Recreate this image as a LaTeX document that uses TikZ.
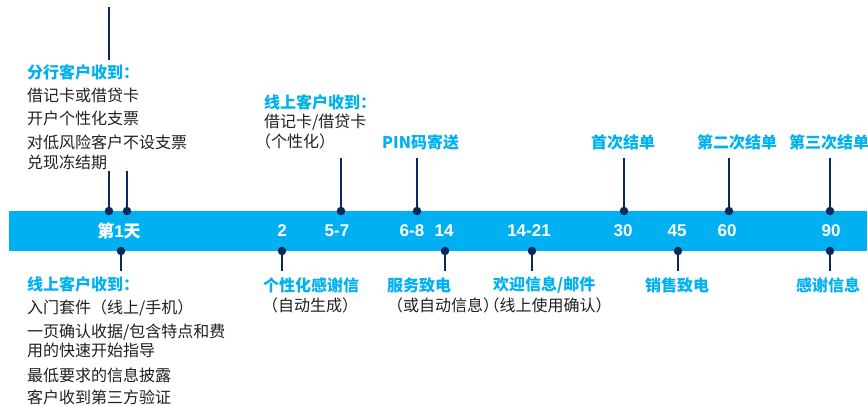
\documentclass[tikz,border=0pt]{standalone}
\usepackage{fontspec}
\setmainfont{Noto Sans CJK SC}
\newfontfamily\numf{Liberation Sans}
\newfontfamily\halfpunct[RawFeature=+halt]{Noto Sans CJK SC}
\definecolor{bandblue}{HTML}{00B0F0}
\definecolor{navy}{HTML}{0B2A5B}
\definecolor{txtgray}{HTML}{1F1F1F}
\begin{document}
\begin{tikzpicture}[x=1pt,y=-1pt,
  lbl/.style={font=\fontsize{16}{18}\selectfont\bfseries, text=bandblue, inner sep=0},
  txt/.style={font=\fontsize{16}{18}\selectfont, text=txtgray, inner sep=0},
  num/.style={font=\numf\fontsize{17}{20}\selectfont\bfseries, text=white, inner sep=0},
  cnum/.style={font=\fontsize{17}{20}\selectfont\bfseries, text=white, inner sep=0},
  stem/.style={draw=navy, line width=2pt},
  dotmark/.style={circle, fill=navy, inner sep=0, minimum size=8.5pt}]
\useasboundingbox (0,0) rectangle (868,405);
% band
\fill[bandblue] (9,211) rectangle (867,251);

% top dots and stems
\node[dotmark] (u1) at (109,211) {};
\node[dotmark] (u2) at (127,211) {};
\node[dotmark] (u3) at (341,211) {};
\node[dotmark] (u4) at (417,211) {};
\node[dotmark] (u5) at (624,211) {};
\node[dotmark] (u6) at (729,211) {};
\node[dotmark] (u7) at (830,211) {};
\coordinate (a1) at (109,7);
\coordinate (b1) at (109,60);
\coordinate (c1) at (109,171);
\coordinate (c2) at (127,171);
\coordinate (c3) at (341,158);
\coordinate (c4) at (417,158);
\coordinate (c5) at (624,158);
\coordinate (c6) at (729,158);
\coordinate (c7) at (830,158);
\draw[stem] (a1) -- (b1);
\draw[stem] (c1) -- (u1);
\draw[stem] (c2) -- (u2);
\draw[stem] (c3) -- (u3);
\draw[stem] (c4) -- (u4);
\draw[stem] (c5) -- (u5);
\draw[stem] (c6) -- (u6);
\draw[stem] (c7) -- (u7);

% bottom dots and stems
\node[dotmark] (d1) at (121,251) {};
\node[dotmark] (d2) at (282,251) {};
\node[dotmark] (d3) at (445,251) {};
\node[dotmark] (d4) at (532,251) {};
\node[dotmark] (d5) at (678,251) {};
\node[dotmark] (d6) at (830,251) {};
\coordinate (e1) at (121,271);
\coordinate (e2) at (282,271);
\coordinate (e3) at (445,271);
\coordinate (e4) at (532,271);
\coordinate (e5) at (678,271);
\coordinate (e6) at (830,271);
\draw[stem] (d1) -- (e1);
\draw[stem] (d2) -- (e2);
\draw[stem] (d3) -- (e3);
\draw[stem] (d4) -- (e4);
\draw[stem] (d5) -- (e5);
\draw[stem] (d6) -- (e6);

% band labels
\node[cnum] (n1) at (119,231) {第\numf 1\rmfamily 天};
\node[num] (n2) at (282,231) {2};
\node[num] (n3) at (337,231) {5-7};
\node[num] (n4) at (412,231) {6-8};
\node[num] (n5) at (444,231) {14};
\node[num] (n6) at (529,231) {14-21};
\node[num] (n7) at (623,231) {30};
\node[num] (n8) at (677,231) {45};
\node[num] (n9) at (727,231) {60};
\node[num] (n10) at (831,231) {90};

% top-left block
\node[lbl, anchor=west] (t1) at (27,72) {分行客户收到：};
\node[txt, anchor=west] (t2) at (27,95) {借记卡或借贷卡};
\node[txt, anchor=west] (t3) at (27,118) {开户个性化支票};
\node[txt, anchor=west] (t4) at (27,142) {对低风险客户不设支票};
\node[txt, anchor=west] (t5) at (27,162) {兑现冻结期};

% top middle
\node[lbl, anchor=west] (m1) at (264,102) {线上客户收到：};
\node[txt, anchor=west] (m2) at (264,122) {借记卡/借贷卡};
\node[txt, anchor=west] (m3) at (255,141) {（个性化）};
\node[lbl, anchor=west] (p1) at (382,142) {PIN码寄送};
\node[lbl] (s1) at (623,142) {首次结单};
\node[lbl] (s2) at (737,142) {第二次结单};
\node[lbl] (s3) at (829,142) {第三次结单};

% bottom-left block
\node[lbl, anchor=west] (b2) at (27,284) {线上客户收到：};
\node[txt, anchor=west] (b3) at (27,308) {入门套件（线上/手机）};
\node[txt, anchor=west] (b4) at (27,332) {一页确认收据/包含特点和费};
\node[txt, anchor=west] (b5) at (27,350) {用的快速开始指导};
\node[txt, anchor=west] (b6) at (27,375) {最低要求的信息披露};
\node[txt, anchor=west] (b7) at (27,397) {客户收到第三方验证};

% bottom others
\node[lbl, anchor=west] (g1) at (263,285) {个性化感谢信};
\node[txt, anchor=west] (g2) at (262,305) {（自动生成）};
\node[lbl, anchor=west] (h1) at (387,285) {服务致电};
\node[txt, anchor=west] (h2) at (387,305) {（或自动信息{\halfpunct ）}};
\node[txt, anchor=west] (w2) at (h2.east) {{\halfpunct （}线上使用确认）};
\node[lbl, anchor=west] (w1) at (493,285) {欢迎信息/邮件};
\node[lbl] (x1) at (677,285) {销售致电};
\node[lbl] (x2) at (828,285) {感谢信息};
\end{tikzpicture}
\end{document}
